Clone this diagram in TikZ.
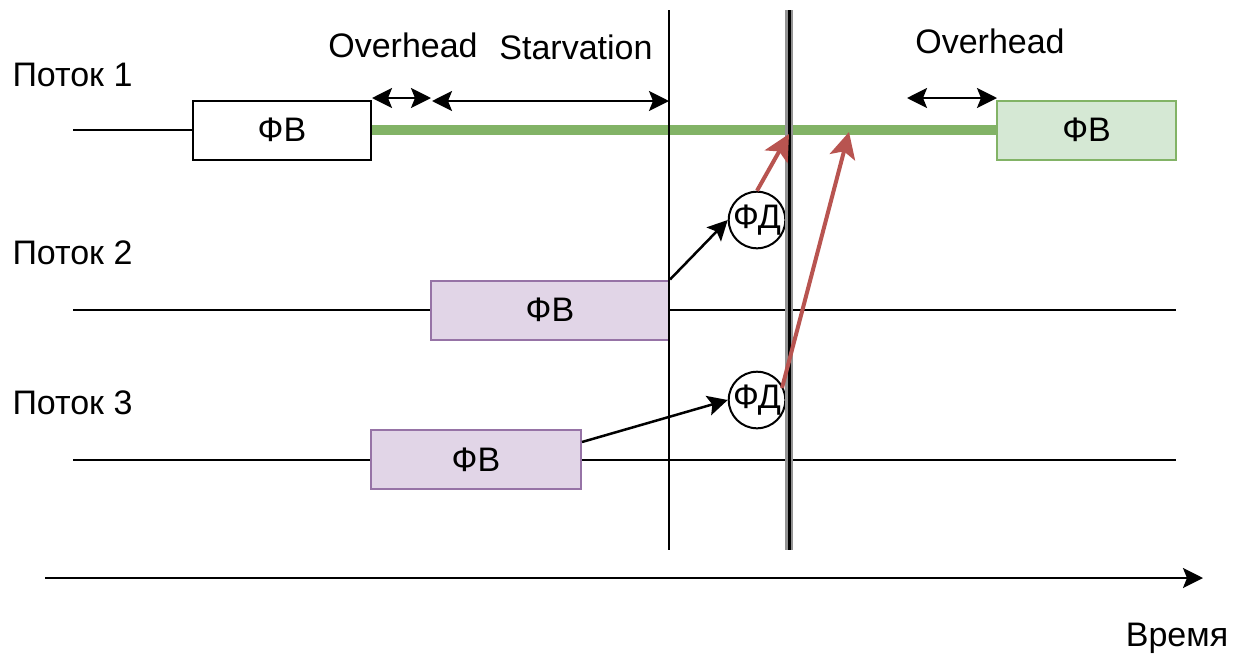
\documentclass[tikz,border=0pt]{standalone}
\usepackage{fontspec}
\setmainfont{Liberation Sans}
\usetikzlibrary{arrows.meta}
\definecolor{gline}{HTML}{82B366}
\definecolor{gfill}{HTML}{D5E8D4}
\definecolor{pfill}{HTML}{E1D5E7}
\definecolor{pline}{HTML}{9673A6}
\definecolor{rline}{HTML}{B85450}
\begin{document}
\begin{tikzpicture}[x=1pt,y=-1pt,
  every node/.style={font=\fontsize{34}{38}\selectfont},
  box/.style={draw, line width=2pt, minimum height=59pt, inner sep=0pt},
  whitebox/.style={box, fill=white},
  greenbox/.style={box, fill=gfill, draw=gline},
  purplebox/.style={box, fill=pfill, draw=pline},
  fd/.style={draw, circle, line width=2pt, minimum size=56pt, inner sep=0pt, fill=white},
  tl/.style={line width=2.5pt},
  tip/.style={-{Stealth[length=20pt,width=20pt,inset=4pt]}},
  dtip/.style={{Stealth[length=20pt,width=20pt,inset=4pt]}-{Stealth[length=20pt,width=20pt,inset=4pt]}},
  redarrow/.style={line width=4pt, draw=rline, -{Stealth[length=26pt,width=26pt,inset=6pt]}}
]
\useasboundingbox (0,0) rectangle (1234,657);
% labels
\node[anchor=west] (p1) at (9,75) {Поток 1};
\node[anchor=west] (p2) at (9,253) {Поток 2};
\node[anchor=west] (p3) at (9,403) {Поток 3};
% coordinates
\coordinate (r1s) at (73,130);
\coordinate (r2s) at (73,310);
\coordinate (r2e) at (1176,310);
\coordinate (r3s) at (73,460);
\coordinate (r3e) at (1176,460);
% row lines
\draw[tl] (r2s) -- (r2e);
\draw[tl] (r3s) -- (r3e);
% boxes
\node[whitebox, minimum width=178pt] (b1) at (282,130) {ФВ};
\node[greenbox, minimum width=179pt] (b4) at (1086.5,130) {ФВ};
\draw[tl] (r1s) -- (b1.west);
\draw[line width=10pt, gline] (b1.east) -- (b4.west);
\node[purplebox, minimum width=238pt] (b2) at (550,310) {ФВ};
\node[purplebox, minimum width=210pt] (b3) at (476,459.5) {ФВ};
% vertical lines
\coordinate (v1t) at (669,10);
\coordinate (v1b) at (669,550);
\coordinate (v2t) at (789,10);
\coordinate (v2b) at (789,550);
\draw[tl] (v1t) -- (v1b);
% circles
\node[fd] (f1) at (757,220) {ФД};
\node[fd] (f2) at (757,400) {ФД};
\draw[line width=8pt, gray!85] (v2t) -- (v2b);
\draw[line width=3pt] (v2t) -- (v2b);
% black arrows
\draw[tl, tip] (b2.north east) -- (f1.west);
\draw[tl, tip] (b3.east |- 0,442) -- (f2.west);
% red arrows
\coordinate (ra1) at (789,134);
\coordinate (ra2) at (849,132);
\draw[redarrow] (f1.north) -- (ra1);
\draw[redarrow] (782,388) -- (ra2);
% top arrows
\coordinate (o1a) at (372,98);
\coordinate (o1b) at (431,98);
\coordinate (s1a) at (432,101);
\coordinate (s1b) at (669,101);
\coordinate (o2a) at (907,98);
\coordinate (o2b) at (997,98);
\draw[tl, dtip] (o1a) -- (o1b);
\draw[tl, dtip] (s1a) -- (s1b);
\draw[tl, dtip] (o2a) -- (o2b);
\node (ov1) at (403,45) {Overhead};
\node (st) at (576,47) {Starvation};
\node (ov2) at (990,41) {Overhead};
% time axis
\coordinate (ta) at (45,578);
\coordinate (tb) at (1203,578);
\draw[tl, tip] (ta) -- (tb);
\node (t) at (1177,638) {Время};
\end{tikzpicture}
\end{document}
